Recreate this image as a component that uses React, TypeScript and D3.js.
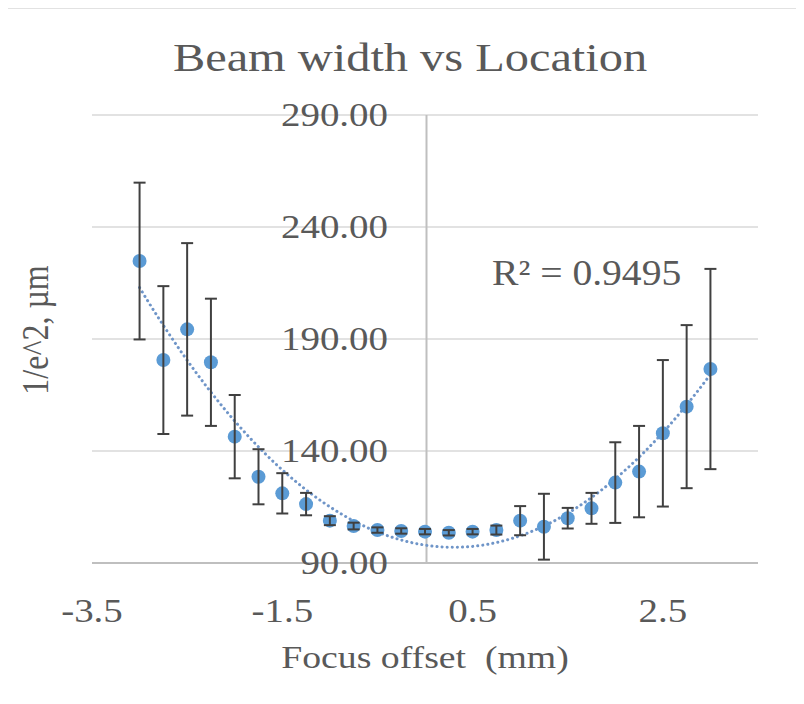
import React from "react";
import * as d3 from "d3";

const focusOffsets = [-3, -2.75, -2.5, -2.25, -2, -1.75, -1.5, -1.25, -1, -0.75, -0.5, -0.25, 0, 0.25, 0.5, 0.75, 1, 1.25, 1.5, 1.75, 2, 2.25, 2.5, 2.75, 3];
const beamWidths = [224.8, 180.6, 194.3, 179.6, 146.4, 128.5, 121.1, 116.3, 108.9, 106.5, 104.7, 104.3, 104.0, 103.5, 104.0, 104.7, 108.9, 106.2, 110.0, 114.4, 125.9, 130.8, 147.9, 159.8, 176.6];
const beamErrors = [35, 33, 38.5, 28.4, 18.6, 12.3, 9, 5, 2, 1.5, 1.2, 1.2, 1.2, 1.2, 1.2, 2, 6.5, 14.7, 4.6, 6.9, 18, 20.4, 32.7, 36.4, 44.7];
const xTicks = [-3.5, -1.5, 0.5, 2.5];
const yTicks = [90, 140, 190, 240, 290];
const titleText = "Beam width vs Location";
const xTitle = "Focus offset  (mm)";
const yTitle = "1/e^2, µm";
const r2Text = "R² = 0.9495";

// least-squares quadratic fit (Excel polynomial trendline, order 2)
function polyFit2(xs: number[], ys: number[]) {
  const n = xs.length;
  let s0 = n, s1 = 0, s2 = 0, s3 = 0, s4 = 0, t0 = 0, t1 = 0, t2 = 0;
  for (let i = 0; i < n; i++) {
    const x = xs[i], y = ys[i];
    s1 += x; s2 += x * x; s3 += x * x * x; s4 += x * x * x * x;
    t0 += y; t1 += x * y; t2 += x * x * y;
  }
  const M = [[s0, s1, s2, t0], [s1, s2, s3, t1], [s2, s3, s4, t2]];
  for (let c = 0; c < 3; c++) {
    let p = c;
    for (let r = c + 1; r < 3; r++) if (Math.abs(M[r][c]) > Math.abs(M[p][c])) p = r;
    [M[c], M[p]] = [M[p], M[c]];
    for (let r = 0; r < 3; r++) {
      if (r === c) continue;
      const f = M[r][c] / M[c][c];
      for (let k = c; k < 4; k++) M[r][k] -= f * M[c][k];
    }
  }
  return [M[0][3] / M[0][0], M[1][3] / M[1][1], M[2][3] / M[2][2]];
}

export default function App() {
  const W = 804, H = 704;
  const x = d3.scaleLinear().domain([-3.5, 3.5]).range([92, 758]);
  const y = d3.scaleLinear().domain([90, 290]).range([563, 115]);
  const font = "'Liberation Serif', 'Times New Roman', serif";
  const textColor = "#595959";
  const sx = 1.18;

  const [c0, c1, c2] = polyFit2(focusOffsets, beamWidths);
  const fitX = d3.range(200).map((i) => focusOffsets[0] + (i / 199) * (focusOffsets[focusOffsets.length - 1] - focusOffsets[0]));
  const fitLine = d3.line<number>().x((d) => x(d)).y((d) => y(c0 + c1 * d + c2 * d * d))(fitX) || "";

  const blue = "#5B9BD5";
  const cap = 6;

  return (
    <div style={{ margin: -8 }}>
      <svg width={W} height={H} style={{ display: "block", background: "#fff" }}>
        <rect x={7} y={8} width={790} height={689} fill="#fff" stroke="#D9D9D9" strokeWidth={1.5} />
        {/* title */}
        <text transform={`translate(410,71) scale(${sx},1)`} textAnchor="middle" fontFamily={font} fontSize={41} fill={textColor}>{titleText}</text>
        {/* gridlines */}
        {yTicks.map((t) => (
          <line key={t} x1={x(-3.5)} x2={x(3.5)} y1={y(t)} y2={y(t)} stroke={t === 90 ? "#BFBFBF" : "#D9D9D9"} strokeWidth={t === 90 ? 2 : 1.5} />
        ))}
        {/* vertical axis at x=0 */}
        <line x1={x(0) + 1.5} x2={x(0) + 1.5} y1={y(290)} y2={y(90)} stroke="#BFBFBF" strokeWidth={2} />
        {/* y tick labels */}
        {yTicks.map((t) => (
          <text key={t} transform={`translate(388,${y(t) + 11}) scale(${sx},1)`} textAnchor="end" fontFamily={font} fontSize={33} fill={textColor}>{d3.format(".2f")(t)}</text>
        ))}
        {/* x tick labels */}
        {xTicks.map((t) => (
          <text key={t} transform={`translate(${x(t)},622) scale(${sx},1)`} textAnchor="middle" fontFamily={font} fontSize={33} fill={textColor}>{String(t)}</text>
        ))}
        {/* axis titles */}
        <text transform={`translate(425,668) scale(${sx},1)`} textAnchor="middle" fontFamily={font} fontSize={32} fill={textColor} style={{ whiteSpace: "pre" }}>{xTitle}</text>
        <text transform={`translate(48,330) rotate(-90) scale(1,${sx})`} textAnchor="middle" fontFamily={font} fontSize={32} fill={textColor}>{yTitle}</text>
        {/* trendline */}
        <path d={fitLine} fill="none" stroke="#6F95C8" strokeWidth={3} strokeDasharray="0.1 5" strokeLinecap="round" />
        {/* markers */}
        {focusOffsets.map((fx, i) => (
          <circle key={i} cx={x(fx)} cy={y(beamWidths[i])} r={7} fill={blue} />
        ))}
        {/* error bars */}
        {focusOffsets.map((fx, i) => {
          const cx = x(fx);
          const top = y(beamWidths[i] + beamErrors[i]);
          const bot = y(beamWidths[i] - beamErrors[i]);
          return (
            <g key={i} stroke="#404040" strokeWidth={2}>
              <line x1={cx} x2={cx} y1={top} y2={bot} />
              <line x1={cx - cap} x2={cx + cap} y1={top} y2={top} />
              <line x1={cx - cap} x2={cx + cap} y1={bot} y2={bot} />
            </g>
          );
        })}
        {/* R squared */}
        <text transform={`translate(492,285) scale(1.1,1)`} fontFamily={font} fontSize={36} fill={textColor}>{r2Text}</text>
      </svg>
    </div>
  );
}
